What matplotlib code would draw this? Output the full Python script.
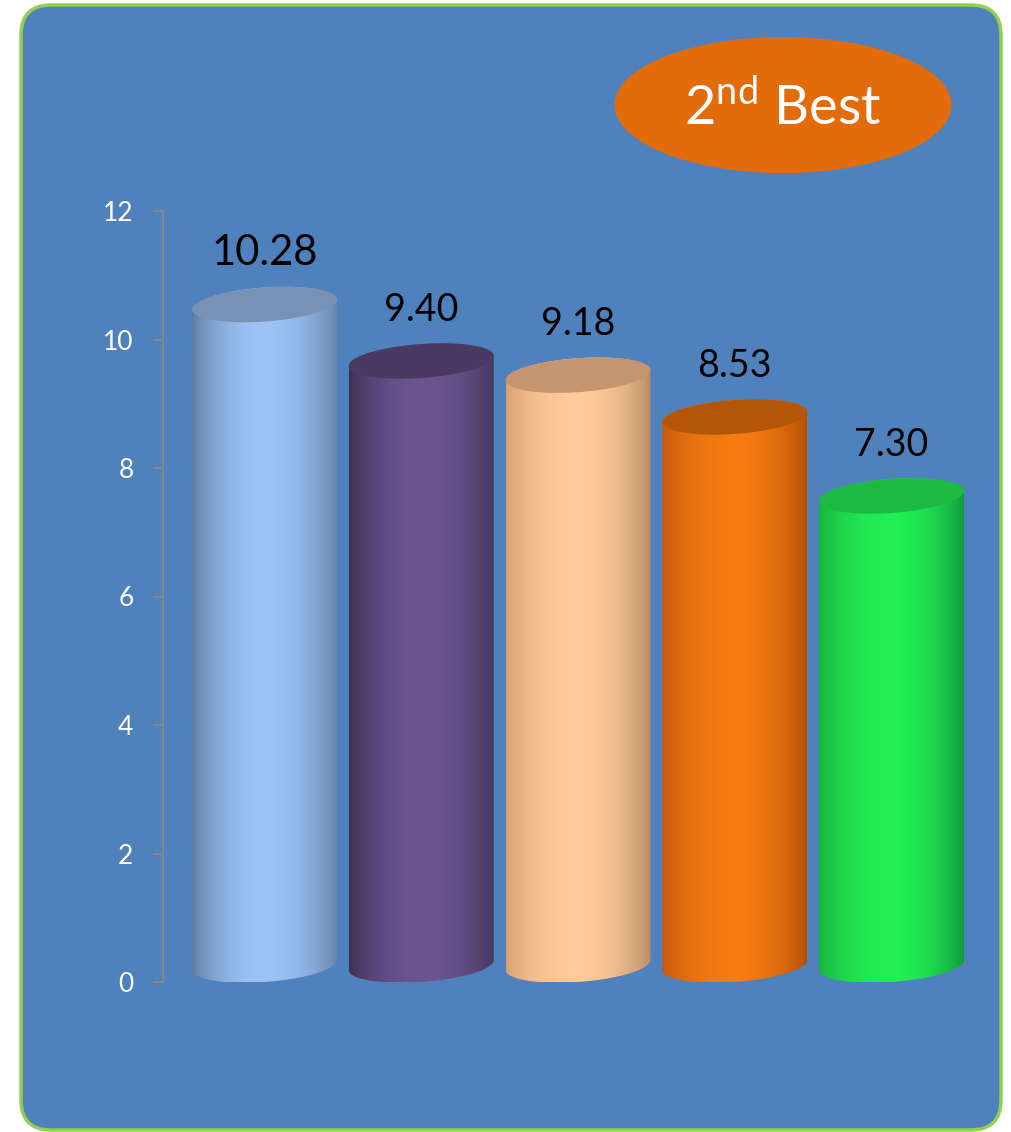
import numpy as np
import matplotlib
matplotlib.use("Agg")
import matplotlib.pyplot as plt
from matplotlib.patches import FancyBboxPatch, Ellipse, Polygon
from matplotlib.colors import to_rgb

plt.rcParams['font.family'] = ['Lato', 'DejaVu Sans']
plt.rcParams['mathtext.fontset'] = 'custom'
plt.rcParams['mathtext.rm'] = 'Lato'
plt.rcParams['mathtext.it'] = 'Lato:italic'
plt.rcParams['mathtext.bf'] = 'Lato:bold'

# ---- data ----
categories = ["A", "B", "C", "D", "E"]
values = [10.28, 9.40, 9.18, 8.53, 7.30]
yticks = [0, 2, 4, 6, 8, 10, 12]
badge_text = r"$2^{\mathrm{nd}}$ Best"

# ---- styles ----
body_left = ['#5d7aa0', '#3b2f50', '#d99f74', '#c4580a', '#17b23d']
body_mid = ['#9dc3f6', '#6b5490', '#ffcc99', '#f57b12', '#22ee55']
body_right = ['#6682a8', '#45375c', '#b48a66', '#b04e05', '#13963a']
top_cols = ['#7891b5', '#4a3962', '#c4956f', '#b45608', '#1cba43']

W, H = 1012, 1132
fig = plt.figure(figsize=(W / 100, H / 100), dpi=100)
fig.patch.set_facecolor('white')

# background panel in pixel coordinates
bg = fig.add_axes([0, 0, 1, 1])
bg.set_xlim(0, W)
bg.set_ylim(H, 0)
bg.axis('off')
bg.add_patch(FancyBboxPatch((21, 5), 980, 1125,
                            boxstyle="round,pad=0,rounding_size=30",
                            facecolor='#4f81bd', edgecolor='#92d050', lw=2.5))
bg.add_patch(Ellipse((783, 105), 337, 136, facecolor='#e36c0a', edgecolor='none'))
bg.text(783, 107, badge_text, color='white', fontsize=39, ha='center', va='center')

# main axes
x_axis_px = 163
y0_px, y12_px = 982, 211
spacing_px = 156.75
c0_px = 264.5
ax_left = x_axis_px / W
ax_right = 1000 / W
ax_bottom = (H - y0_px) / H
ax_top = (H - y12_px) / H
ax = fig.add_axes([ax_left, ax_bottom, ax_right - ax_left, ax_top - ax_bottom])
ax.set_facecolor('none')
x0 = (c0_px - x_axis_px) / spacing_px
xlim = (-x0, -x0 + (1000 - x_axis_px) / spacing_px)
ylim = (0, 12)

px_per_y = (y0_px - y12_px) / 12.0
a = 72.5 / spacing_px          # half width in data units
b = 17.0 / px_per_y            # ellipse semi-axis in y data units
shear = 0.069 * spacing_px / px_per_y


def ell_pts(cx, cy, t):
    x = cx + a * np.cos(t)
    y = cy + b * np.sin(t) + shear * (x - cx)
    return np.column_stack([x, y])


u = np.linspace(0, 1, 300)
for i, v in enumerate(values):
    cx = i
    cyb = b
    cyt = v + b
    front = ell_pts(cx, cyb, np.linspace(np.pi, 2 * np.pi, 80))
    back = ell_pts(cx, cyt, np.linspace(0, np.pi, 80))
    body = Polygon(np.vstack([front, back]), closed=True, facecolor='none',
                   edgecolor='none', transform=ax.transData)
    ax.add_patch(body)
    # horizontal cylindrical gradient
    L, M, R = np.array(to_rgb(body_left[i])), np.array(to_rgb(body_mid[i])), np.array(to_rgb(body_right[i]))
    s = np.sin(np.pi * u) ** 0.75
    edge = np.where(u[:, None] < 0.5, L, R)
    cols = edge + (M - edge) * s[:, None]
    img = cols[None, :, :]
    im = ax.imshow(img, extent=[cx - a, cx + a, -0.2, v + 2 * b + 0.2],
                   aspect='auto', origin='lower', interpolation='bilinear', zorder=2)
    im.set_clip_path(body)
    # top ellipse
    top = Polygon(ell_pts(cx, cyt, np.linspace(0, 2 * np.pi, 160)), closed=True,
                  facecolor=top_cols[i], edgecolor='none', zorder=3)
    ax.add_patch(top)
    ax.annotate(f"{v:.2f}", xy=(cx, v), xytext=(0, 49), textcoords='offset points',
                ha='center', va='center', fontsize=30 if i == 0 else 27,
                color='black', zorder=4)

ax.set_xlim(*xlim)
ax.set_ylim(*ylim)
ax.set_yticks(yticks)
ax.set_yticklabels([str(t) for t in yticks])
ax.set_xticks([])
for sp in ['top', 'right', 'bottom']:
    ax.spines[sp].set_visible(False)
ax.spines['left'].set_color('#868686')
ax.spines['left'].set_linewidth(1.5)
ax.tick_params(axis='y', colors='#868686', length=7.2, width=1.5,
               labelcolor='white', labelsize=19, pad=14)

fig.savefig('out.png', dpi=100, facecolor='white')
